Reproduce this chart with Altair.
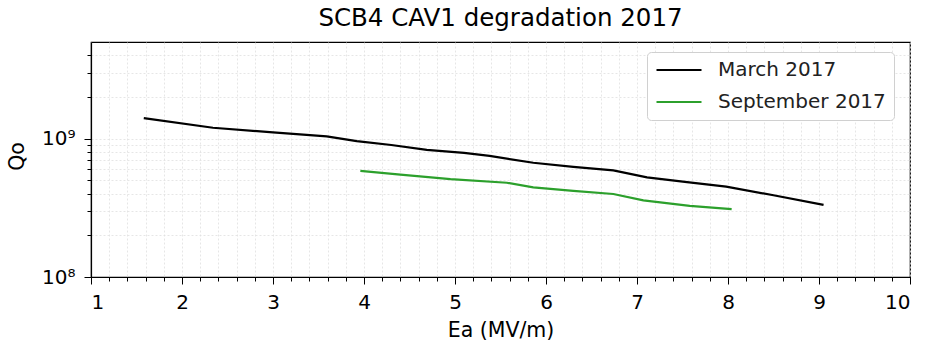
import altair as alt
import pandas as pd

march_x = [1.58, 2.34, 3.0, 3.59, 3.92, 4.3, 4.69, 5.1, 5.38, 5.86, 6.3, 6.74, 7.11, 7.55, 7.98, 8.5, 9.05]
march_q = [1.41e9, 1.20e9, 1.11e9, 1.04e9, 9.6e8, 9.0e8, 8.3e8, 7.9e8, 7.5e8, 6.7e8, 6.25e8, 5.9e8, 5.25e8, 4.85e8, 4.5e8, 3.9e8, 3.32e8]
sept_x = [3.96, 4.4, 4.95, 5.57, 5.86, 6.3, 6.74, 7.07, 7.58, 8.04]
sept_q = [5.86e8, 5.5e8, 5.1e8, 4.8e8, 4.45e8, 4.2e8, 3.98e8, 3.58e8, 3.27e8, 3.1e8]
series = ["March 2017", "September 2017"]
colors = ["#000000", "#2ca02c"]

x_ticks = [1, 1.2, 1.4, 1.6, 1.8, 2, 2.2, 2.4, 2.6, 2.8, 3, 3.2, 3.4, 3.6, 3.8, 4, 4.2, 4.4, 4.6, 4.8,
           5, 5.2, 5.4, 5.6, 5.8, 6, 6.2, 6.4, 6.6, 6.8, 7, 7.2, 7.4, 7.6, 7.8, 8, 8.2, 8.4, 8.6, 8.8,
           9, 9.2, 9.4, 9.6, 9.8, 10]
y_ticks = [1e8, 2e8, 3e8, 4e8, 5e8, 6e8, 7e8, 8e8, 9e8, 1e9, 2e9, 3e9, 4e9]

df = pd.concat([
    pd.DataFrame({"Ea": march_x, "Qo": march_q, "series": series[0], "order": range(len(march_x))}),
    pd.DataFrame({"Ea": sept_x, "Qo": sept_q, "series": series[1], "order": range(len(sept_x))}),
])

FONT = "DejaVu Sans"

chart = alt.Chart(df).mark_line(strokeWidth=2.2).encode(
    x=alt.X("Ea:Q",
            scale=alt.Scale(domain=[1, 10], nice=False, zero=False),
            axis=alt.Axis(title="Ea (MV/m)", values=x_ticks,
                          labelExpr="datum.value % 1 == 0 ? format(datum.value, 'd') : ''",
                          tickSize={"condition": {"test": "datum.value % 1 == 0", "value": 7}, "value": 4},
                          labelPadding=8, labelFontSize=20,
                          titleY=59, titleBaseline="alphabetic")),
    y=alt.Y("Qo:Q",
            scale=alt.Scale(type="log", domain=[1e8, 5e9], nice=False),
            axis=alt.Axis(title="Qo", values=y_ticks,
                          labelExpr="datum.value == 1e9 ? '10⁹' : (datum.value == 1e8 ? '10⁸' : '')",
                          tickSize={"condition": {"test": "datum.value == 1e8 || datum.value == 1e9", "value": 7}, "value": 4},
                          labelPadding=9, labelFontSize=20,
                          titleX=-74, titleY=114, titleAngle=270, titleAlign="center", titleBaseline="middle")),
    color=alt.Color("series:N", scale=alt.Scale(domain=series, range=colors),
                    legend=alt.Legend(title=None, orient="none", legendX=556, legendY=10,
                                      symbolType="stroke", symbolSize=2025, symbolStrokeWidth=2.2,
                                      labelFontSize=20, labelFont=FONT, labelOffset=15, labelColor="#222222",
                                      labelLimit=400,
                                      clipHeight=20, rowPadding=12,
                                      padding=8, strokeColor="#d0d0d0", fillColor="white",
                                      cornerRadius=4)),
    order="order:Q",
).properties(
    width=819, height=235,
    title=alt.TitleParams("SCB4 CAV1 degradation 2017", fontSize=24.5, font=FONT,
                          fontWeight="normal", anchor="middle", offset=16, dy=24,
                          baseline="alphabetic", color="black"),
    autosize=alt.AutoSizeParams(type="none"),
    padding={"left": 91, "top": 42, "right": 15, "bottom": 64},
).configure_view(
    stroke="black", strokeWidth=1.2
).configure_axis(
    domainColor="black", tickColor="black", labelColor="black", titleColor="black",
    labelFont=FONT, titleFont=FONT, titleFontSize=20.5,
    titleFontWeight="normal", gridColor="#e0e0e0", gridDash=[2, 2], gridWidth=0.8,
    domainWidth=1.2
)

chart.save("out.html", embed_options={"renderer": "svg", "actions": False})
